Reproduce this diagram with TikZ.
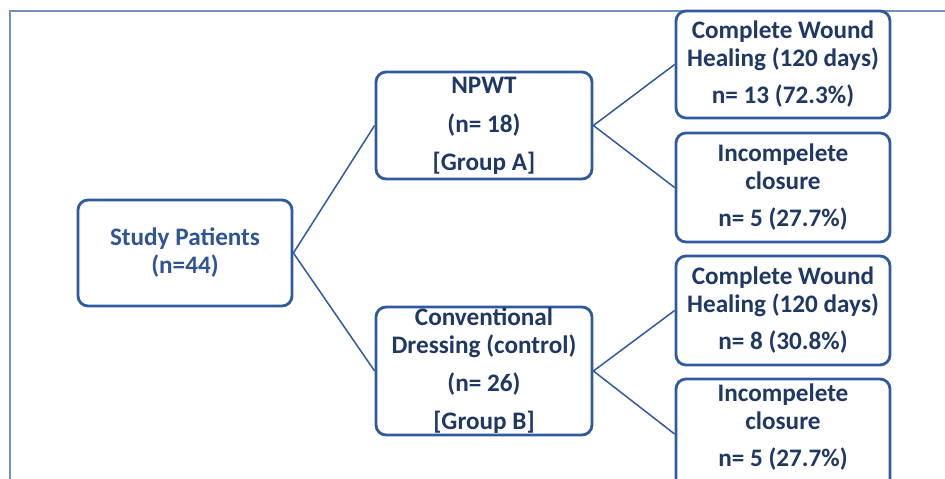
\documentclass[tikz,border=0pt]{standalone}
\usepackage{fontspec}
\setmainfont{Carlito}
\definecolor{boxblue}{HTML}{2F5A9E}
\definecolor{navy}{HTML}{1F3864}
\definecolor{midblue}{HTML}{2F5597}
\definecolor{framec}{HTML}{7390BA}
\tikzset{
  box/.style={draw=boxblue, line width=2.8pt, rounded corners=10pt, fill=white,
    align=center, inner sep=0pt, text=navy,
    font=\fontsize{25.2}{28}\selectfont\bfseries},
  link/.style={draw=boxblue, line width=1.5pt},
  framel/.style={draw=framec, line width=1.3pt}
}
\begin{document}
\begin{tikzpicture}[x=1pt,y=-1pt]
\useasboundingbox (0,0) rectangle (945,479);
\clip (0,0) rectangle (945,479);
\coordinate (fb) at (10,479);
\coordinate (fc) at (10,11);
\coordinate (fr) at (945,11);
\draw[framel] (fb) -- (fc) -- (fr);

\node[box, minimum width=214pt, minimum height=106pt, text=midblue] (study) at (185,253)
  {Study Patients\\(n=44)};
\node[box, minimum width=216pt, minimum height=107pt] (npwt) at (484,125.5)
  {NPWT\\[11pt](n= 18)\\[10pt][Group A]};
\node[box, minimum width=216pt, minimum height=128pt] (conv) at (484,371)
  {Conventional\\Dressing (control)\\[10pt](n= 26)\\[10pt][Group B]};
\node[box, minimum width=214pt, minimum height=107pt] (r1) at (783,64.5)
  {Complete Wound\\Healing (120 days)\\[9pt]n= 13 (72.3\%)};
\node[box, minimum width=214pt, minimum height=109pt] (r2) at (783,187.5)
  {Incompelete\\closure\\[9pt]n= 5 (27.7\%)};
\node[box, minimum width=214pt, minimum height=109pt] (r3) at (783,310.5)
  {Complete Wound\\Healing (120 days)\\[9pt]n= 8 (30.8\%)};
\node[box, minimum width=214pt, minimum height=110pt, text depth=18pt] (r4) at (783,434)
  {Incompelete\\closure\\[9pt]n= 5 (27.7\%)};

\draw[link] (study.east) -- (npwt.west);
\draw[link] (study.east) -- (conv.west);
\draw[link] (npwt.east) -- (r1.west);
\draw[link] (npwt.east) -- (r2.west);
\draw[link] (conv.east) -- (r3.west);
\draw[link] (conv.east) -- (r4.west);
\end{tikzpicture}
\end{document}
